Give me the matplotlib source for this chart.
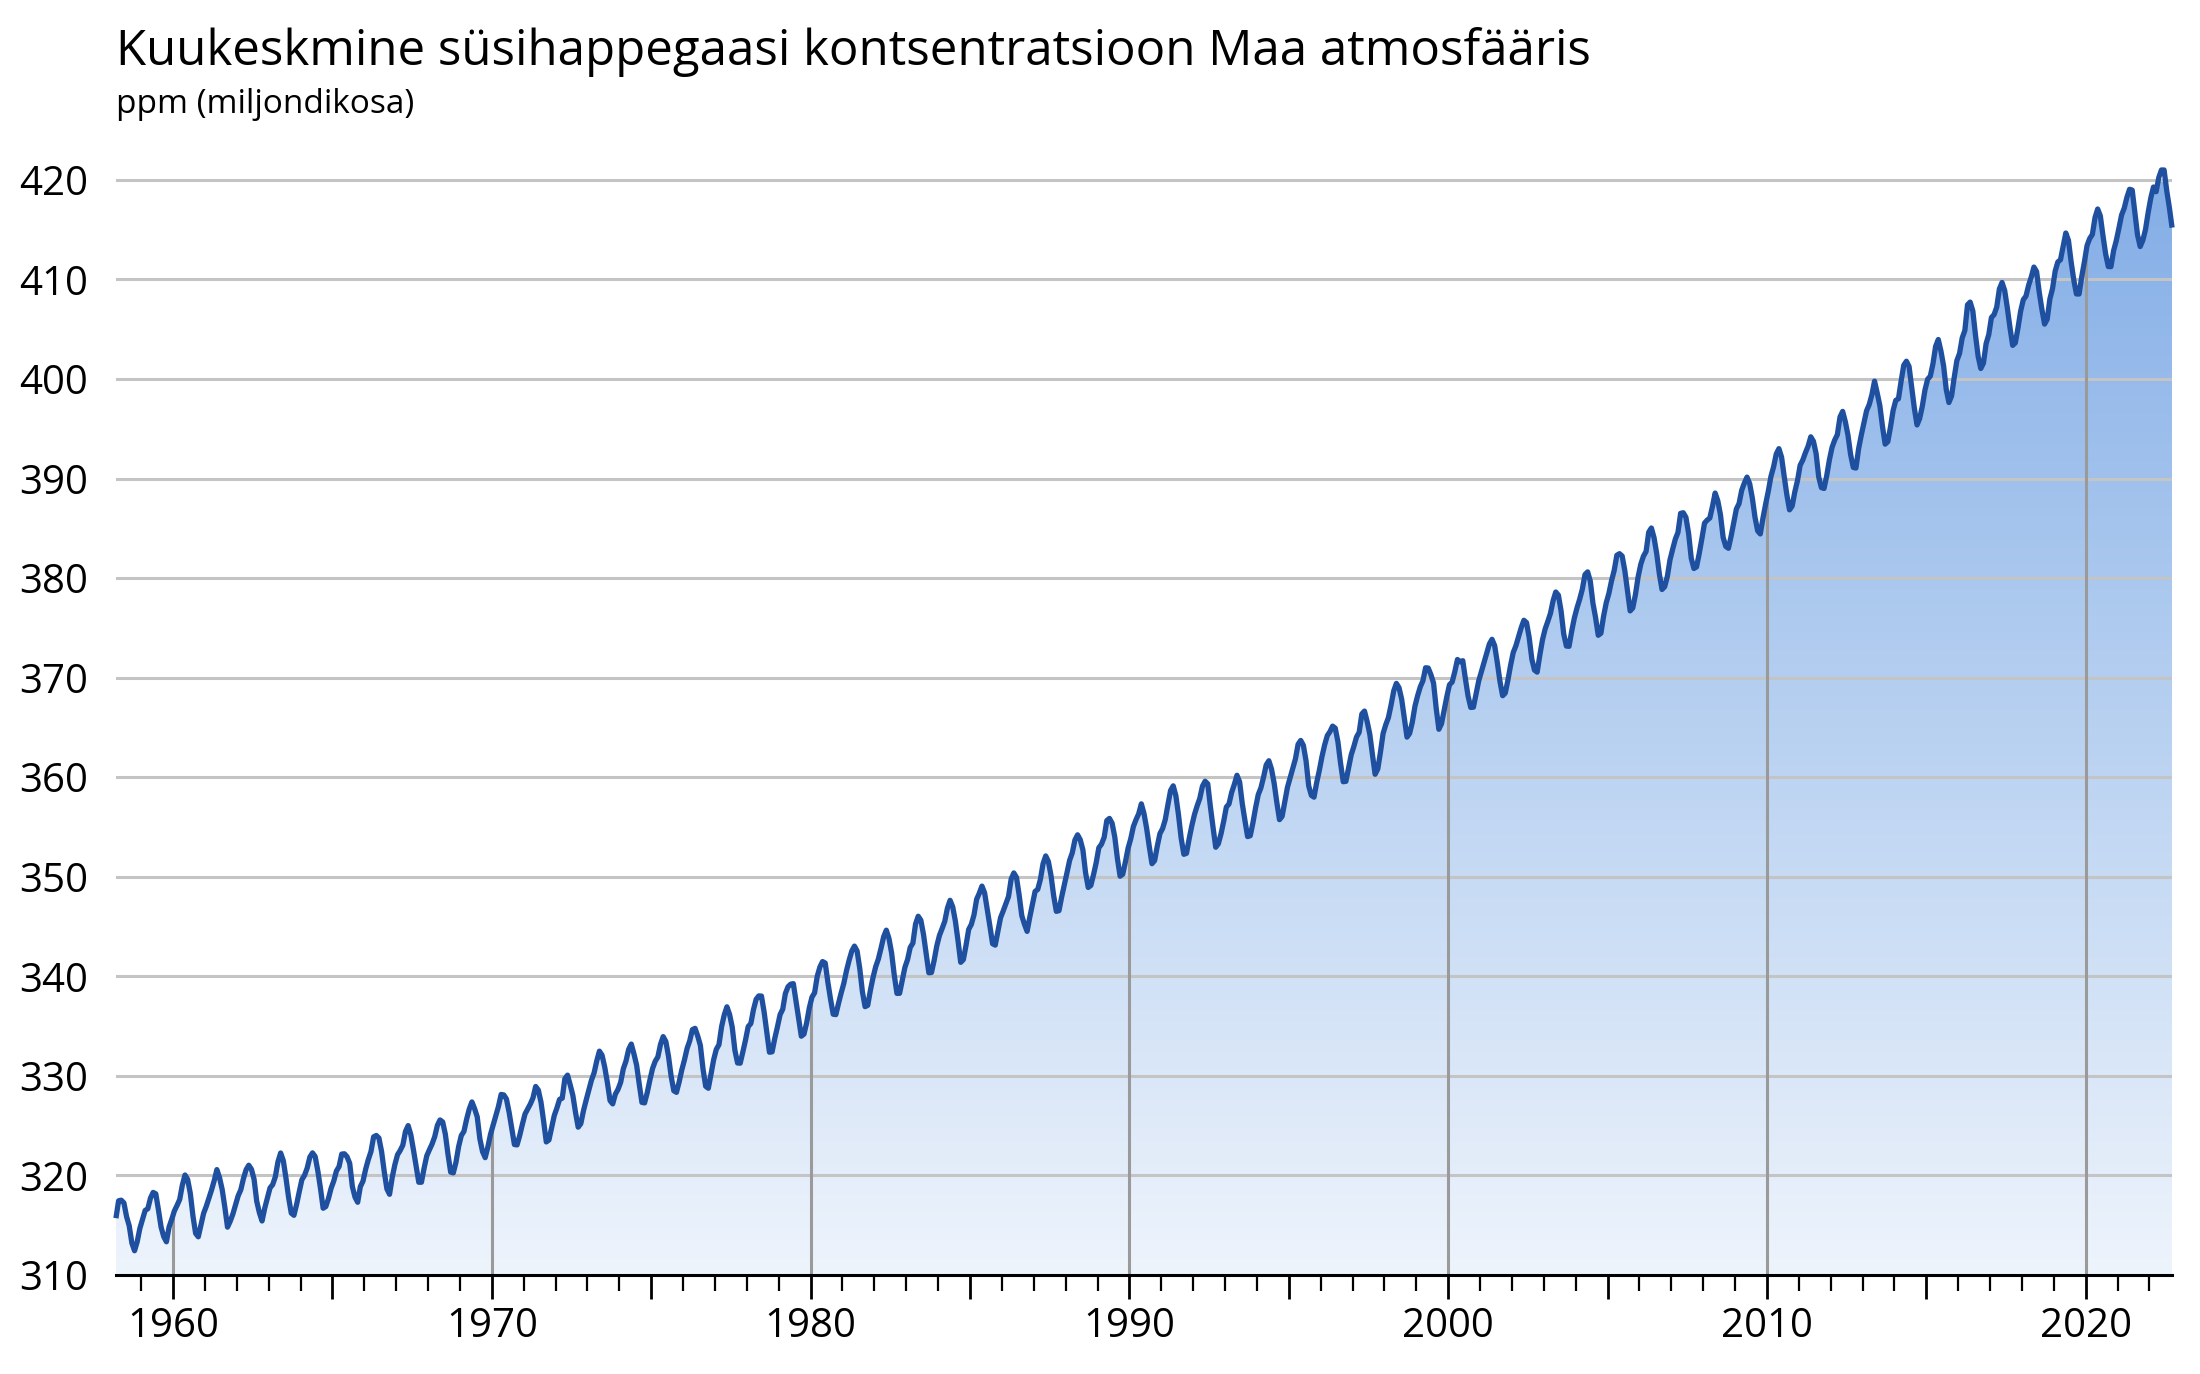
import numpy as np
import matplotlib
matplotlib.use("Agg")
import matplotlib.pyplot as plt
from matplotlib.colors import LinearSegmentedColormap
from matplotlib.patches import PathPatch
from matplotlib.path import Path

plt.rcParams["font.family"] = ["Open Sans", "DejaVu Sans"]

# Monthly CO2 concentration at Mauna Loa (ppm), Jan..Dec per year
start_year = 1958
start_month = 3  # series begins in March 1958
co2_1958 = [315.70, 317.45, 317.51, 317.24, 315.86, 314.93, 313.20, 312.43, 313.33, 314.67]
co2_1959 = [315.58, 316.48, 316.65, 317.72, 318.29, 318.15, 316.54, 314.80, 313.84, 313.33, 314.81, 315.58]
co2_1960 = [316.43, 316.98, 317.58, 319.03, 320.04, 319.59, 318.18, 315.90, 314.17, 313.83, 315.00, 316.19]
co2_1961 = [316.89, 317.70, 318.54, 319.48, 320.58, 319.77, 318.57, 316.79, 314.80, 315.38, 316.10, 317.01]
co2_1962 = [317.94, 318.55, 319.68, 320.57, 321.02, 320.62, 319.61, 317.40, 316.25, 315.42, 316.69, 317.70]
co2_1963 = [318.74, 319.07, 319.86, 321.38, 322.25, 321.48, 319.74, 317.77, 316.21, 315.99, 317.07, 318.35]
co2_1964 = [319.57, 320.01, 320.74, 321.84, 322.26, 321.89, 320.44, 318.69, 316.70, 316.87, 317.68, 318.71]
co2_1965 = [319.44, 320.44, 320.89, 322.14, 322.17, 321.87, 321.21, 318.87, 317.81, 317.30, 318.87, 319.42]
co2_1966 = [320.62, 321.59, 322.39, 323.87, 324.01, 323.75, 322.39, 320.37, 318.64, 318.10, 319.79, 321.08]
co2_1967 = [322.07, 322.50, 323.04, 324.42, 325.00, 324.09, 322.55, 320.92, 319.31, 319.31, 320.72, 321.96]
co2_1968 = [322.57, 323.15, 323.89, 325.02, 325.57, 325.36, 324.14, 322.11, 320.33, 320.25, 321.32, 322.89]
co2_1969 = [324.00, 324.42, 325.63, 326.66, 327.38, 326.71, 325.88, 323.66, 322.38, 321.78, 322.85, 324.12]
co2_1970 = [325.06, 325.98, 326.93, 328.13, 328.08, 327.67, 326.34, 324.69, 323.10, 323.06, 324.01, 325.13]
co2_1971 = [326.17, 326.68, 327.17, 327.79, 328.93, 328.57, 327.36, 325.43, 323.36, 323.56, 324.80, 326.01]
co2_1972 = [326.77, 327.63, 327.75, 329.72, 330.07, 329.09, 328.04, 326.32, 324.84, 325.20, 326.50, 327.55]
co2_1973 = [328.55, 329.56, 330.30, 331.50, 332.48, 332.07, 330.87, 329.31, 327.51, 327.18, 328.16, 328.64]
co2_1974 = [329.35, 330.71, 331.48, 332.65, 333.19, 332.20, 331.07, 329.15, 327.33, 327.28, 328.31, 329.58]
co2_1975 = [330.73, 331.46, 331.90, 333.17, 333.94, 333.45, 331.97, 329.95, 328.50, 328.34, 329.37, 330.58]
co2_1976 = [331.59, 332.75, 333.52, 334.64, 334.77, 334.00, 333.06, 330.68, 328.95, 328.75, 330.15, 331.62]
co2_1977 = [332.66, 333.13, 334.95, 336.13, 336.93, 336.17, 334.88, 332.56, 331.29, 331.27, 332.41, 333.60]
co2_1978 = [334.95, 335.25, 336.66, 337.69, 338.03, 338.01, 336.41, 334.41, 332.37, 332.41, 333.75, 334.90]
co2_1979 = [336.14, 336.69, 338.27, 338.95, 339.21, 339.26, 337.54, 335.75, 333.98, 334.19, 335.31, 336.81]
co2_1980 = [337.90, 338.34, 340.01, 340.93, 341.48, 341.33, 339.40, 337.70, 336.19, 336.15, 337.27, 338.32]
co2_1981 = [339.29, 340.55, 341.61, 342.53, 343.03, 342.54, 340.78, 338.44, 336.95, 337.08, 338.58, 339.88]
co2_1982 = [340.96, 341.73, 342.81, 343.97, 344.63, 343.79, 342.32, 340.09, 338.28, 338.29, 339.60, 340.90]
co2_1983 = [341.68, 342.90, 343.33, 345.25, 346.03, 345.63, 344.19, 342.27, 340.35, 340.38, 341.59, 343.05]
co2_1984 = [344.10, 344.79, 345.52, 346.84, 347.63, 346.97, 345.53, 343.55, 341.40, 341.67, 343.10, 344.70]
co2_1985 = [345.21, 346.16, 347.74, 348.34, 349.06, 348.38, 346.71, 345.02, 343.27, 343.13, 344.49, 345.88]
co2_1986 = [346.56, 347.28, 348.01, 349.77, 350.38, 349.93, 348.16, 346.08, 345.22, 344.51, 345.93, 347.22]
co2_1987 = [348.52, 348.73, 349.73, 351.31, 352.09, 351.53, 350.11, 348.08, 346.52, 346.59, 347.96, 349.16]
co2_1988 = [350.39, 351.64, 352.40, 353.69, 354.21, 353.72, 352.69, 350.40, 348.92, 349.13, 350.20, 351.41]
co2_1989 = [352.91, 353.27, 353.96, 355.64, 355.86, 355.37, 353.99, 351.81, 350.05, 350.25, 351.49, 352.85]
co2_1990 = [353.80, 355.04, 355.73, 356.32, 357.32, 356.34, 354.84, 353.01, 351.31, 351.62, 353.07, 354.33]
co2_1991 = [354.84, 355.73, 357.23, 358.66, 359.13, 358.13, 356.19, 353.85, 352.25, 352.35, 353.81, 355.12]
co2_1992 = [356.25, 357.11, 357.86, 359.09, 359.59, 359.33, 357.01, 354.94, 352.96, 353.32, 354.32, 355.57]
co2_1993 = [357.00, 357.31, 358.47, 359.27, 360.19, 359.52, 357.33, 355.64, 354.03, 354.12, 355.41, 356.91]
co2_1994 = [358.24, 358.92, 359.99, 361.23, 361.65, 360.81, 359.38, 357.46, 355.73, 356.07, 357.53, 358.98]
co2_1995 = [359.92, 360.86, 361.83, 363.30, 363.69, 363.19, 361.64, 359.12, 358.17, 357.99, 359.45, 360.68]
co2_1996 = [362.07, 363.24, 364.17, 364.57, 365.13, 364.92, 363.55, 361.38, 359.54, 359.58, 360.89, 362.24]
co2_1997 = [363.09, 364.03, 364.51, 366.35, 366.64, 365.59, 364.31, 362.25, 360.29, 360.82, 362.49, 364.38]
co2_1998 = [365.26, 365.98, 367.24, 368.66, 369.42, 368.99, 367.82, 365.95, 364.02, 364.40, 365.52, 367.13]
co2_1999 = [368.18, 369.07, 369.68, 370.99, 370.96, 370.30, 369.45, 366.90, 364.81, 365.37, 366.72, 368.10]
co2_2000 = [369.29, 369.55, 370.60, 371.82, 371.58, 371.70, 369.86, 368.13, 367.00, 367.03, 368.37, 369.67]
co2_2001 = [370.59, 371.51, 372.43, 373.37, 373.85, 373.21, 371.51, 369.61, 368.18, 368.45, 369.76, 371.24]
co2_2002 = [372.53, 373.20, 374.12, 375.02, 375.76, 375.52, 374.01, 371.85, 370.75, 370.55, 372.25, 373.79]
co2_2003 = [374.88, 375.64, 376.45, 377.73, 378.60, 378.28, 376.70, 374.38, 373.17, 373.14, 374.66, 375.99]
co2_2004 = [377.00, 377.87, 378.88, 380.35, 380.62, 379.69, 377.47, 376.01, 374.25, 374.46, 376.16, 377.51]
co2_2005 = [378.46, 379.73, 380.77, 382.29, 382.45, 382.21, 380.74, 378.74, 376.70, 377.00, 378.35, 380.11]
co2_2006 = [381.38, 382.19, 382.67, 384.61, 385.03, 384.05, 382.46, 380.41, 378.85, 379.13, 380.15, 381.82]
co2_2007 = [382.89, 383.90, 384.58, 386.50, 386.56, 386.10, 384.50, 381.99, 380.96, 381.12, 382.45, 383.95]
co2_2008 = [385.52, 385.82, 386.03, 387.21, 388.54, 387.76, 386.36, 384.09, 383.18, 382.99, 384.19, 385.56]
co2_2009 = [386.94, 387.48, 388.82, 389.55, 390.14, 389.48, 388.03, 386.11, 384.74, 384.43, 386.02, 387.42]
co2_2010 = [388.71, 390.20, 391.17, 392.46, 393.00, 392.15, 390.20, 388.35, 386.85, 387.24, 388.67, 389.79]
co2_2011 = [391.33, 391.86, 392.60, 393.25, 394.19, 393.74, 392.51, 390.13, 389.08, 389.00, 390.28, 391.86]
co2_2012 = [393.12, 393.86, 394.40, 396.18, 396.74, 395.71, 394.36, 392.39, 391.11, 391.05, 392.98, 394.34]
co2_2013 = [395.55, 396.80, 397.43, 398.41, 399.78, 398.60, 397.32, 395.20, 393.45, 393.70, 395.16, 396.84]
co2_2014 = [397.85, 398.01, 399.77, 401.38, 401.78, 401.25, 399.10, 397.03, 395.38, 396.03, 397.28, 398.91]
co2_2015 = [399.98, 400.28, 401.54, 403.28, 403.96, 402.80, 401.31, 398.93, 397.63, 398.29, 400.16, 401.85]
co2_2016 = [402.56, 404.12, 404.87, 407.45, 407.72, 406.83, 404.41, 402.27, 401.05, 401.59, 403.55, 404.45]
co2_2017 = [406.17, 406.46, 407.22, 409.04, 409.69, 408.88, 407.12, 405.13, 403.37, 403.63, 405.12, 406.81]
co2_2018 = [407.96, 408.32, 409.41, 410.24, 411.24, 410.79, 408.71, 406.99, 405.51, 406.00, 408.02, 409.07]
co2_2019 = [410.83, 411.75, 411.97, 413.32, 414.66, 413.92, 411.77, 409.95, 408.54, 408.53, 410.27, 411.76]
co2_2020 = [413.40, 414.11, 414.51, 416.21, 417.07, 416.38, 414.38, 412.55, 411.29, 411.28, 412.89, 413.89]
co2_2021 = [415.15, 416.47, 417.16, 418.24, 419.05, 418.97, 416.70, 414.47, 413.30, 413.93, 415.01, 416.71]
co2_2022 = [418.19, 419.28, 418.81, 420.23, 420.99, 420.99, 418.90, 417.19, 415.20]

yearly = [co2_1958, co2_1959, co2_1960, co2_1961, co2_1962, co2_1963, co2_1964, co2_1965,
          co2_1966, co2_1967, co2_1968, co2_1969, co2_1970, co2_1971, co2_1972, co2_1973,
          co2_1974, co2_1975, co2_1976, co2_1977, co2_1978, co2_1979, co2_1980, co2_1981,
          co2_1982, co2_1983, co2_1984, co2_1985, co2_1986, co2_1987, co2_1988, co2_1989,
          co2_1990, co2_1991, co2_1992, co2_1993, co2_1994, co2_1995, co2_1996, co2_1997,
          co2_1998, co2_1999, co2_2000, co2_2001, co2_2002, co2_2003, co2_2004, co2_2005,
          co2_2006, co2_2007, co2_2008, co2_2009, co2_2010, co2_2011, co2_2012, co2_2013,
          co2_2014, co2_2015, co2_2016, co2_2017, co2_2018, co2_2019, co2_2020, co2_2021,
          co2_2022]

yticks = [310, 320, 330, 340, 350, 360, 370, 380, 390, 400, 410, 420]
xlabels = [1960, 1970, 1980, 1990, 2000, 2010, 2020]

title = "Kuukeskmine süsihappegaasi kontsentratsioon Maa atmosfääris"
subtitle = "ppm (miljondikosa)"

# build decimal dates (mid-month)
t, co2 = [], []
for i, vals in enumerate(yearly):
    yr = start_year + i
    m0 = start_month if i == 0 else 1
    for j, v in enumerate(vals):
        t.append(yr + (m0 + j - 0.5) / 12)
        co2.append(v)
t = np.array(t)
co2 = np.array(co2)

fig = plt.figure(figsize=(22, 13.74), dpi=100)
ax = fig.add_axes([0.0527, 0.0721, 0.9346, 0.8115])
ymin, ymax = 310, 422
ax.set_xlim(t[0], t[-1])
ax.set_ylim(ymin, ymax)

# gradient fill under the curve
cmap = LinearSegmentedColormap.from_list("fill", ["#eef4fc", "#b8d1f1", "#84aee7"])
grad = np.linspace(0, 1, 256).reshape(-1, 1)
img = ax.imshow(grad, cmap=cmap, origin="lower", aspect="auto",
                extent=[t[0], t[-1], ymin, 420], zorder=1)
verts = np.vstack([[t[0], ymin], np.column_stack([t, co2]), [t[-1], ymin]])
poly = PathPatch(Path(verts), facecolor="none", edgecolor="none", transform=ax.transData)
ax.add_patch(poly)
img.set_clip_path(poly)

# horizontal grid lines
for y in yticks[1:]:
    ax.axhline(y, color="#c4c4c4", lw=2.2, zorder=2)

# decade lines up to the curve
for yr in xlabels:
    ax.vlines(yr, ymin, np.interp(yr, t, co2), color="#9a9a9a", lw=2.2, zorder=2)

ax.plot(t, co2, color="#1f50a0", lw=3.8, solid_joinstyle="round",
        solid_capstyle="butt", zorder=3, clip_on=False)

for s in ["top", "right", "left"]:
    ax.spines[s].set_visible(False)
ax.spines["bottom"].set_linewidth(2.2)
ax.spines["bottom"].set_zorder(4)

ax.set_yticks(yticks)
ax.set_yticklabels([str(v) for v in yticks], fontsize=29)
ax.tick_params(axis="y", length=0, pad=20)

ax.set_xticks(np.arange(1960, 2025, 5))
ax.set_xticklabels([str(v) if v % 10 == 0 else "" for v in np.arange(1960, 2025, 5)], fontsize=29)
ax.set_xticks(np.arange(1959, 2023), minor=True)
ax.tick_params(axis="x", which="major", length=17, width=2, pad=6)
ax.tick_params(axis="x", which="minor", length=11.5, width=1.6)

fig.text(0.0527, 0.953, title, fontsize=35.5, ha="left", va="baseline")
fig.text(0.0527, 0.918, subtitle, fontsize=24, ha="left", va="baseline")

fig.savefig("out.png", dpi=100)
